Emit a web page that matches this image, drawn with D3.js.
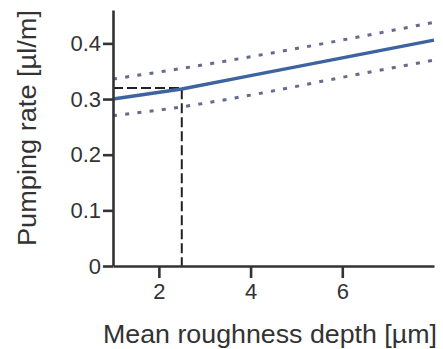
<!DOCTYPE html>
<html>
<head>
<meta charset="utf-8">
<script src="https://cdn.jsdelivr.net/npm/d3@7"></script>
<style>
  body { margin: 0; background: #fff; }
  text { font-family: "Liberation Sans", Arial, sans-serif; fill: #333; }
</style>
</head>
<body>
<figure id="chart" style="margin:0"></figure>
<script>
// data
const roughness = [1, 2.5, 4, 6, 8];
const pumpFit   = [0.300, 0.318, 0.342, 0.374, 0.406];
const upperBand = [0.336, 0.355, 0.376, 0.406, 0.438];
const lowerBand = [0.270, 0.286, 0.307, 0.339, 0.370];
const refPoint  = [2.5, 0.32];
const xTicks = [2, 4, 6];
const yTicks = [0, 0.1, 0.2, 0.3, 0.4];

const width = 443, height = 349;
const margin = { top: 10, right: 9, bottom: 83, left: 113 };

const svg = d3.select("figure#chart")
  .append("svg")
  .attr("width", width)
  .attr("height", height);

const x = d3.scaleLinear()
  .domain([1, 8])
  .range([margin.left, width - margin.right]);

const y = d3.scaleLinear()
  .domain([0, 0.46])
  .range([height - margin.bottom, margin.top]);

const line = d3.line()
  .x((d, i) => x(roughness[i]))
  .y(d => y(d));

// confidence band (dotted)
[upperBand, lowerBand].forEach(band => {
  svg.append("path")
    .attr("d", line.curve(d3.curveMonotoneX)(band))
    .attr("fill", "none")
    .attr("stroke", "#666a8c")
    .attr("stroke-width", 3)
    .attr("stroke-dasharray", "4 8.3");
});

// dashed reference lines
svg.append("path")
  .attr("d", d3.line()([
    [x(1), y(refPoint[1])],
    [x(refPoint[0]), y(refPoint[1])],
    [x(refPoint[0]), y(0)]
  ]))
  .attr("fill", "none")
  .attr("stroke", "#222")
  .attr("stroke-width", 2)
  .attr("stroke-dasharray", "10 4");

// fitted line
svg.append("path")
  .attr("d", line.curve(d3.curveLinear)(pumpFit))
  .attr("fill", "none")
  .attr("stroke", "#3d63a0")
  .attr("stroke-width", 3.4);

// axes
const xAxis = svg.append("g")
  .attr("transform", "translate(0," + y(0) + ")")
  .call(d3.axisBottom(x).tickValues(xTicks).tickFormat(d3.format("d")).tickSize(12).tickSizeOuter(0).tickPadding(5));

const yAxis = svg.append("g")
  .attr("transform", "translate(" + x(1) + ",0)")
  .call(d3.axisLeft(y).tickValues(yTicks).tickFormat(d => d === 0 ? "0" : d3.format(".1f")(d)).tickSize(10).tickSizeOuter(0).tickPadding(2));

[xAxis, yAxis].forEach(g => {
  g.select(".domain").attr("stroke", "#333").attr("stroke-width", 2.6);
  g.selectAll(".tick line").attr("stroke", "#333").attr("stroke-width", 2.6);
  g.selectAll(".tick text")
    .style("font-size", "22px")
    .style("font-family", "'Liberation Sans', Arial, sans-serif")
    .attr("fill", "#333");
});

// axis titles
svg.append("text")
  .attr("x", 103)
  .attr("y", 343)
  .attr("textLength", 334)
  .attr("lengthAdjust", "spacingAndGlyphs")
  .style("font-size", "25px")
  .text("Mean roughness depth [\u00b5m]");

svg.append("text")
  .attr("transform", "translate(36,246)rotate(-90)")
  .attr("textLength", 236)
  .attr("lengthAdjust", "spacingAndGlyphs")
  .style("font-size", "26px")
  .text("Pumping rate [\u00b5l/m]");
</script>
</body>
</html>
